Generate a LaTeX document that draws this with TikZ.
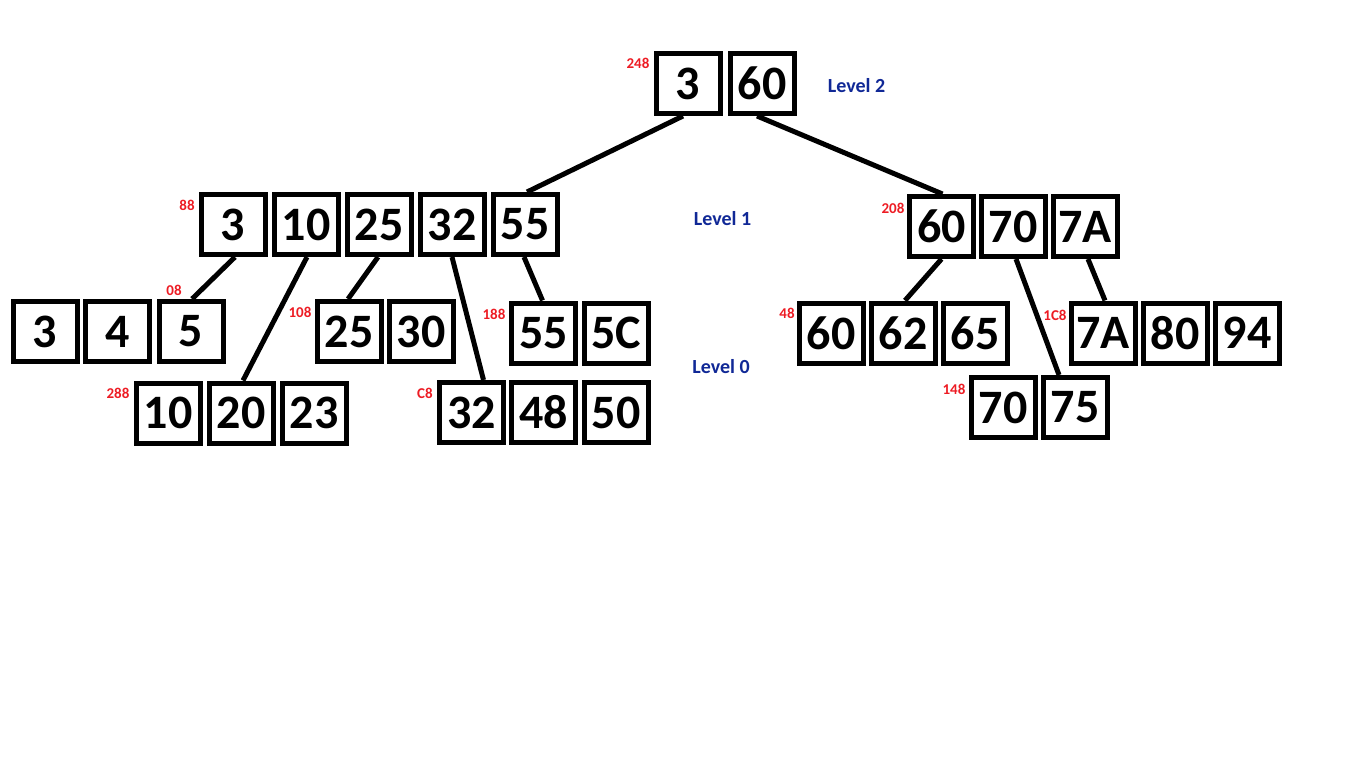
\documentclass[tikz,border=0pt]{standalone}
\usepackage{fontspec}
\setmainfont{Carlito}
\usepackage{tikz}
\usetikzlibrary{calc}
\definecolor{addrred}{RGB}{237,28,36}
\definecolor{lvlblue}{RGB}{16,40,150}
\tikzset{
    keybox/.style={draw, line width=5pt, minimum width=64pt, minimum height=60pt, inner sep=0pt, font=\fontsize{48}{48}\selectfont\bfseries},
    addr/.style={text=addrred, inner sep=0pt, font=\fontsize{15}{15}\selectfont\bfseries},
    lvl/.style={text=lvlblue, inner sep=0pt, font=\fontsize{20}{20}\selectfont\bfseries},
    link/.style={line width=5pt}
}
\begin{document}
\begin{tikzpicture}[x=1pt,y=-1pt]
\useasboundingbox (0,0) rectangle (1360,778);
\foreach \x/\y/\p/\t in {688/83.5/t0/3, 762/83.5/t1/60,
    233/224.5/p0/3, 306/224.5/p1/10, 379/224.5/p2/25, 452/224.5/p3/32, 525/224.5/p4/55,
    941.5/226.5/q0/60, 1013/226.5/q1/70, 1085/226.5/q2/7A,
    45/331.5/la0/3, 117.5/331.5/la1/4, 191/331.5/la2/5,
    168/413/lb0/10, 241/413/lb1/20, 314/413/lb2/23,
    349/331.5/lc0/25, 421/331.5/lc1/30,
    471.5/412.5/ld0/32, 543.5/412.5/ld1/48, 616/412.5/ld2/50,
    543.5/333/le0/55, 616/333/le1/5C,
    831/333/lf0/60, 903/333/lf1/62, 975/333/lf2/65,
    1003/407.5/lg0/70, 1075/407.5/lg1/75,
    1103/333/lh0/7A, 1175/333/lh1/80, 1247/333/lh2/94}{
    \node[keybox] (\p) at (\x,\y) {\t};
}
\foreach \x/\y/\t in {638/63/248, 187/205/88, 174/290/08, 118/393/288, 300/312/108,
    425/393/C8, 494/314/188, 893/208/208, 787/313/48, 1055/315/1C8, 954/389/148}{
    \node[addr] at (\x,\y) {\t};
}
\node[lvl] at (856.5,86) {Level 2};
\node[lvl] at (722.5,219) {Level 1};
\node[lvl] at (721,367) {Level 0};
% tree links
\draw[link] ([xshift=-5pt]t0.south) -- ([xshift=2pt]p4.north);
\draw[link] ([xshift=-5pt]t1.south) -- ([xshift=1pt]q0.north);
\draw[link] ([xshift=2pt]p0.south) -- ([xshift=1pt]la2.north);
\draw[link] ([xshift=1pt]p1.south) -- ([xshift=2pt]lb1.north);
\draw[link] ([xshift=-1pt]p2.south) -- ([xshift=-1pt]lc0.north);
\draw[link] (p3.south) -- ([xshift=12pt]ld0.north);
\draw[link] ([xshift=-1pt]p4.south) -- ([xshift=-1pt]le0.north);
\draw[link] (q0.south) -- ([xshift=2pt]lf1.north);
\draw[link] ([xshift=3pt]q1.south) -- ([xshift=-16pt]lg1.north);
\draw[link] ([xshift=3pt]q2.south) -- ([xshift=2pt]lh0.north);
\end{tikzpicture}
\end{document}
